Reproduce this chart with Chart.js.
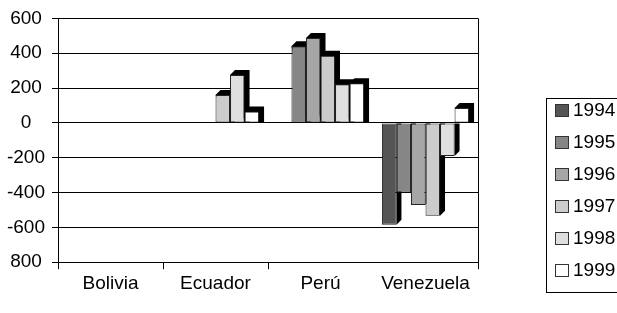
<!DOCTYPE html>
<html>
<head>
<meta charset="utf-8">
<script src="https://cdn.jsdelivr.net/npm/chart.js@4.4.1/dist/chart.umd.min.js"></script>
<style>
  html, body { margin: 0; padding: 0; background: #fff; }
</style>
</head>
<body>
<canvas id="grafico" width="617" height="313"></canvas>
<script>
const paises = ['Bolivia', 'Ecuador', 'Perú', 'Venezuela'];
const anios = ['1994', '1995', '1996', '1997', '1998', '1999'];
const datos1994 = [0, 0, 0, -585];
const datos1995 = [0, 0, 440, -400];
const datos1996 = [0, 0, 488, -472];
const datos1997 = [0, 160, 385, -533];
const datos1998 = [0, 275, 222, -190];
const datos1999 = [0, 65, 228, 85];
const ticksY = [600, 400, 200, 0, -200, -400, -600, -800];
const etiquetasY = ['600', '400', '200', '0', '-200', '-400', '-600', '800'];

const grises = ['#555555', '#868686', '#a6a6a6', '#cccccc', '#dfdfdf', '#ffffff'];
const series = [datos1994, datos1995, datos1996, datos1997, datos1998, datos1999];

Chart.defaults.font.family = '"Liberation Sans", Arial, sans-serif';
Chart.defaults.font.size = 19;
Chart.defaults.color = '#000';

// black "3D" depth behind every bar
const sombra3d = {
  id: 'sombra3d',
  beforeDatasetsDraw(chart) {
    const ctx = chart.ctx;
    const dx = 5, dy = 5;
    ctx.save();
    ctx.fillStyle = '#000';
    chart.data.datasets.forEach((ds, i) => {
      const meta = chart.getDatasetMeta(i);
      meta.data.forEach((bar, j) => {
        const v = ds.data[j];
        if (!v) return;
        const x0 = bar.x - bar.width / 2;
        const x1 = bar.x + bar.width / 2;
        ctx.beginPath();
        if (v > 0) {
          ctx.moveTo(x0, bar.y);
          ctx.lineTo(x0 + dx, bar.y - dy);
          ctx.lineTo(x1 + dx, bar.y - dy);
          ctx.lineTo(x1 + dx, bar.base);
          ctx.lineTo(x1, bar.base);
        } else {
          ctx.moveTo(x1, bar.base);
          ctx.lineTo(x1 + dx, bar.base);
          ctx.lineTo(x1 + dx, bar.y - dy);
          ctx.lineTo(x1, bar.y);
        }
        ctx.closePath();
        ctx.fill();
      });
    });
    ctx.restore();
  }
};

// boxed legend on the right
const leyenda = {
  id: 'leyenda',
  afterDraw(chart) {
    const ctx = chart.ctx;
    ctx.save();
    ctx.strokeStyle = '#000';
    ctx.lineWidth = 1;
    ctx.strokeRect(546.5, 98.5, 90, 194);
    ctx.font = '19px "Liberation Sans", Arial, sans-serif';
    ctx.textBaseline = 'middle';
    chart.data.datasets.forEach((ds, i) => {
      const y = 110 + i * 32;
      ctx.fillStyle = ds.backgroundColor;
      ctx.fillRect(555.5, y - 5.5, 13, 12);
      ctx.strokeStyle = '#333';
      ctx.strokeRect(555.5, y - 5.5, 13, 12);
      ctx.fillStyle = '#000';
      ctx.fillText(ds.label, 573, y + 1);
    });
    ctx.restore();
  }
};

const grafico = new Chart(document.getElementById('grafico'), {
  type: 'bar',
  data: {
    labels: paises,
    datasets: anios.map((a, i) => ({
      label: a,
      data: series[i],
      backgroundColor: grises[i],
      borderColor: '#222',
      borderWidth: (c) => (c.raw === 0 ? 0 : 1),
      borderSkipped: false,
      categoryPercentage: 0.83,
      barPercentage: 1,
    })),
  },
  options: {
    responsive: false,
    animation: false,
    layout: { padding: { left: 0, right: 139, top: 12, bottom: 15 } },
    plugins: { legend: { display: false }, tooltip: { enabled: false } },
    scales: {
      x: {
        grid: {
          offset: true,
          color: (c) => (c.index === undefined ? '#000' : 'transparent'),
          tickColor: (c) => (c.index === 3 ? 'transparent' : '#000'),
          tickLength: 7,
        },
        border: { color: '#000' },
        ticks: { padding: 3, maxRotation: 0 },
      },
      y: {
        min: -800,
        max: 600,
        afterBuildTicks: (s) => { s.ticks = ticksY.map((v) => ({ value: v })); },
        afterFit: (s) => { s.width = 58; },
        grid: { color: '#000', tickLength: 6 },
        border: { color: '#000' },
        ticks: {
          padding: 7,
          crossAlign: 'center',
          callback: (v) => etiquetasY[ticksY.indexOf(v)],
        },
      },
    },
  },
  plugins: [sombra3d, leyenda],
});
</script>
</body>
</html>
